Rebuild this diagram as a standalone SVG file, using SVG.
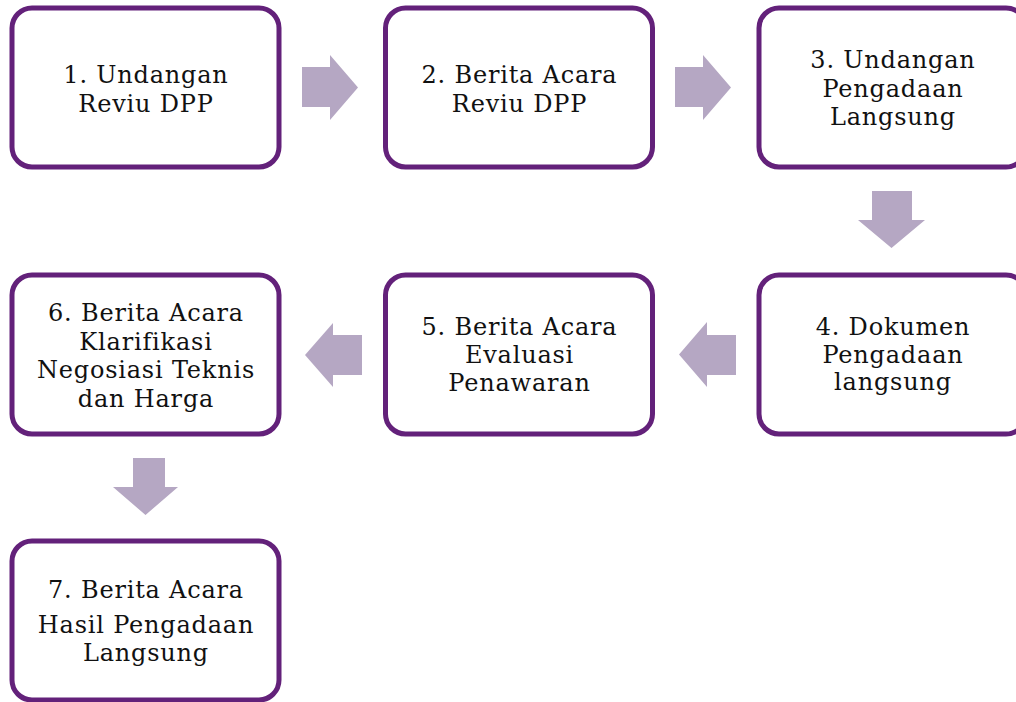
<svg xmlns="http://www.w3.org/2000/svg" width="1016" height="702" viewBox="0 0 1016 702">
<style>
.box{fill:#ffffff;stroke:#63217a;stroke-width:5}
.arr{fill:#b5a7c3}
text{font-family:"DejaVu Serif","Liberation Serif",serif;font-size:24px;fill:#111111;text-anchor:middle;letter-spacing:0.8px}
</style>
<rect width="1016" height="702" fill="#ffffff"/>
<g id="connectors">
<polygon class="arr" points="302,67 330,67 330,55 358,87.5 330,120 330,107 302,107"/>
<polygon class="arr" points="675,67 703,67 703,55 731,87.5 703,120 703,107 675,107"/>
<polygon class="arr" points="872,191 912,191 912,220 925,220 891.5,248 858,220 872,220"/>
<polygon class="arr" points="736,335 707,335 707,322 679,354.5 707,387 707,375 736,375"/>
<polygon class="arr" points="362,335 333,335 333,323 305,355 333,387 333,375 362,375"/>
<polygon class="arr" points="133,458 165,458 165,487 178,487 145.5,515 113,487 133,487"/>
</g>
<g id="node1">
<rect class="box" x="12" y="8" width="267" height="159" rx="20"/>
<text x="146" y="83">1. Undangan</text>
<text x="146" y="112">Reviu DPP</text>
</g>
<g id="node2">
<rect class="box" x="385.5" y="8" width="267" height="159" rx="20"/>
<text x="519.5" y="83">2. Berita Acara</text>
<text x="519.5" y="112">Reviu DPP</text>
</g>
<g id="node3">
<rect class="box" x="759" y="8" width="267" height="159" rx="20"/>
<text x="893" y="68">3. Undangan</text>
<text x="893" y="97">Pengadaan</text>
<text x="893" y="125">Langsung</text>
</g>
<g id="node4">
<rect class="box" x="759" y="275" width="267" height="159" rx="20"/>
<text x="893" y="335">4. Dokumen</text>
<text x="893" y="363">Pengadaan</text>
<text x="893" y="390">langsung</text>
</g>
<g id="node5">
<rect class="box" x="385.5" y="275" width="267" height="159" rx="20"/>
<text x="519.5" y="335">5. Berita Acara</text>
<text x="519.5" y="363">Evaluasi</text>
<text x="519.5" y="391">Penawaran</text>
</g>
<g id="node6">
<rect class="box" x="12" y="275" width="267" height="159" rx="20"/>
<text x="146" y="321">6. Berita Acara</text>
<text x="146" y="350">Klarifikasi</text>
<text x="146" y="378">Negosiasi Teknis</text>
<text x="146" y="407">dan Harga</text>
</g>
<g id="node7">
<rect class="box" x="12" y="541" width="267" height="159" rx="20"/>
<text x="146" y="598">7. Berita Acara</text>
<text x="146" y="633">Hasil Pengadaan</text>
<text x="146" y="661">Langsung</text>
</g>
</svg>
